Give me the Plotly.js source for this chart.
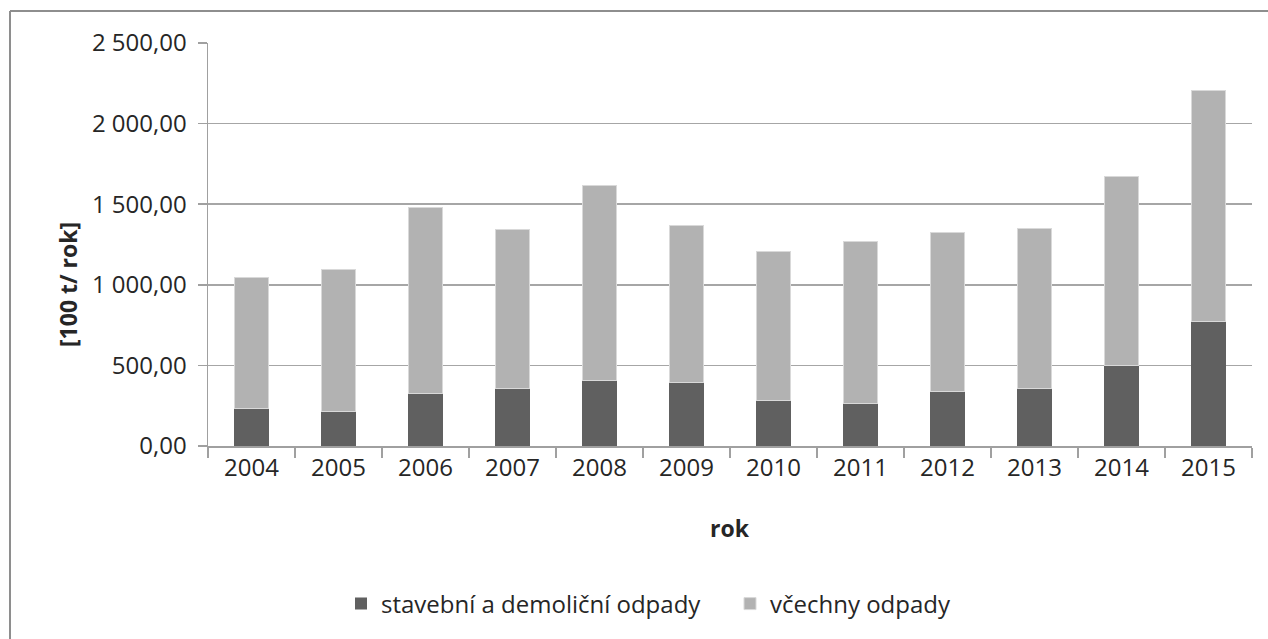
<!DOCTYPE html>
<html>
<head>
<meta charset="utf-8">
<script src="https://cdn.plot.ly/plotly-3.0.1.min.js"></script>
<style>
  html, body { margin: 0; padding: 0; background: #ffffff; }
  #chart { width: 1268px; height: 639px; }
</style>
</head>
<body>
<div id="chart"></div>
<script>
// Data
const years = ["2004","2005","2006","2007","2008","2009","2010","2011","2012","2013","2014","2015"];
const demolitionWaste = [230, 213, 325, 356, 406, 391, 282, 263, 339, 356, 498, 771];
const otherWaste = [818, 885, 1154, 986, 1207, 976, 926, 1005, 988, 996, 1173, 1433];
const seriesNames = ["stavební a demoliční odpady", "včechny odpady"];
const yTickValues = [0, 500, 1000, 1500, 2000, 2500];
const xTitle = "rok";
const yTitle = "[100 t/ rok]";

const FONT = "'Open Sans', 'Noto Sans', 'Liberation Sans', sans-serif";
const TEXT = "#262626";
const FS = 24;
const TFS = 23;

const traces = [
  {
    type: "bar", name: seriesNames[0], x: years, y: demolitionWaste,
    marker: { color: "#606060", line: { width: 0 } },
    hoverinfo: "skip"
  },
  {
    type: "bar", name: seriesNames[1], x: years, y: otherWaste,
    marker: { color: "#b2b2b2", line: { color: "#d9d9d9", width: 1 } },
    hoverinfo: "skip"
  }
];

const L = 208, R = 16, T = 43, B = 193, W = 1268, H = 639;
const pw = W - L - R, ph = H - T - B;
const px = v => (v - L) / pw;
const py = v => (H - B - v) / ph;

const layout = {
  width: W, height: H,
  margin: { l: L, r: R, t: T, b: B, pad: 0 },
  paper_bgcolor: "#ffffff", plot_bgcolor: "#ffffff",
  barmode: "stack", bargap: 0.6,
  separators: ", ",
  font: { family: FONT, color: TEXT, size: FS },
  showlegend: true,
  legend: {
    orientation: "h", x: px(341), xanchor: "left", y: py(604), yanchor: "middle",
    font: { family: FONT, size: FS, color: TEXT }, itemwidth: 30, traceorder: "normal",
    entrywidthmode: "pixels", entrywidth: 344
  },
  xaxis: {
    type: "category", tickson: "boundaries", ticks: "outside", ticklen: 10,
    tickcolor: "#a0a0a0", tickwidth: 1.5,
    showline: true, linecolor: "#a0a0a0", linewidth: 1.5,
    showgrid: false, zeroline: false,
    tickfont: { family: FONT, size: FS, color: TEXT }
  },
  yaxis: {
    range: [0, 2500], tickvals: yTickValues, tickformat: ",.2f",
    ticks: "outside", ticklen: 9, tickcolor: "#a0a0a0", tickwidth: 1.5,
    showline: true, linecolor: "#a0a0a0", linewidth: 1.5,
    showgrid: true, gridcolor: "#a6a6a6", gridwidth: 1.5, zeroline: false,
    tickfont: { family: FONT, size: FS, color: TEXT },
    ticklabelstandoff: 6
  },
  annotations: [
    { text: "<b>" + xTitle + "</b>", xref: "paper", yref: "paper", x: px(730), y: py(528),
      xanchor: "center", yanchor: "middle", showarrow: false,
      font: { family: FONT, size: TFS, color: TEXT } },
    { text: "<b>" + yTitle + "</b>", xref: "paper", yref: "paper", x: px(68), y: py(285),
      xanchor: "center", yanchor: "middle", showarrow: false, textangle: -90,
      font: { family: FONT, size: TFS, color: TEXT } }
  ],
  shapes: [
    { type: "line", xref: "paper", yref: "paper", x0: px(10), x1: px(1268), y0: py(11), y1: py(11),
      line: { color: "#8e8e8e", width: 2 } },
    { type: "line", xref: "paper", yref: "paper", x0: px(10), x1: px(10), y0: py(11), y1: py(639),
      line: { color: "#8e8e8e", width: 2 } }
  ]
};

Plotly.newPlot("chart", traces, layout, { displayModeBar: false, staticPlot: true });
</script>
</body>
</html>
